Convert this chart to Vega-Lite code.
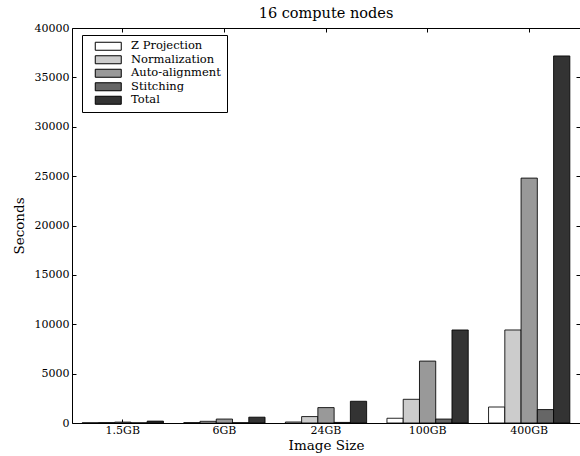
{
  "$schema": "https://vega.github.io/schema/vega-lite/v6.json",
  "width": 508,
  "height": 395,
  "autosize": {"type": "none"},
  "padding": {"left": 72, "top": 28, "right": 0, "bottom": 33},
  "title": {"text": "16 compute nodes", "fontSize": 14.5, "fontWeight": "normal", "font": "DejaVu Serif", "color": "black", "offset": 1},
  "config": {
    "font": "DejaVu Serif",
    "view": {"stroke": "black", "strokeWidth": 1},
    "legend": {"labelFont": "DejaVu Serif", "labelColor": "black"},
    "axis": {"labelColor": "black", "titleColor": "black", "tickColor": "black", "domain": false, "grid": false, "labelFont": "DejaVu Serif", "titleFont": "DejaVu Serif", "titleFontWeight": "normal"}
  },
  "data": {"values": [
    {"size": "1.5GB", "stage": "Z Projection", "seconds": 20},
    {"size": "1.5GB", "stage": "Normalization", "seconds": 40},
    {"size": "1.5GB", "stage": "Auto-alignment", "seconds": 90},
    {"size": "1.5GB", "stage": "Stitching", "seconds": 15},
    {"size": "1.5GB", "stage": "Total", "seconds": 190},
    {"size": "6GB", "stage": "Z Projection", "seconds": 40},
    {"size": "6GB", "stage": "Normalization", "seconds": 170},
    {"size": "6GB", "stage": "Auto-alignment", "seconds": 400},
    {"size": "6GB", "stage": "Stitching", "seconds": 30},
    {"size": "6GB", "stage": "Total", "seconds": 590},
    {"size": "24GB", "stage": "Z Projection", "seconds": 100},
    {"size": "24GB", "stage": "Normalization", "seconds": 650},
    {"size": "24GB", "stage": "Auto-alignment", "seconds": 1560},
    {"size": "24GB", "stage": "Stitching", "seconds": 60},
    {"size": "24GB", "stage": "Total", "seconds": 2200},
    {"size": "100GB", "stage": "Z Projection", "seconds": 480},
    {"size": "100GB", "stage": "Normalization", "seconds": 2400},
    {"size": "100GB", "stage": "Auto-alignment", "seconds": 6270},
    {"size": "100GB", "stage": "Stitching", "seconds": 400},
    {"size": "100GB", "stage": "Total", "seconds": 9420},
    {"size": "400GB", "stage": "Z Projection", "seconds": 1620},
    {"size": "400GB", "stage": "Normalization", "seconds": 9420},
    {"size": "400GB", "stage": "Auto-alignment", "seconds": 24800},
    {"size": "400GB", "stage": "Stitching", "seconds": 1360},
    {"size": "400GB", "stage": "Total", "seconds": 37170}
  ]},
  "layer": [
    {
      "mark": {"type": "bar", "stroke": "black", "strokeWidth": 1, "strokeOpacity": 0.85},
      "encoding": {
        "x": {"field": "size", "type": "nominal", "sort": ["1.5GB", "6GB", "24GB", "100GB", "400GB"],
              "scale": {"paddingInner": 0.2, "paddingOuter": 0.1},
              "axis": {"title": "Image Size", "labelAngle": 0, "labelFontSize": 11, "titleFontSize": 13.5, "tickSize": -4, "labelPadding": 5, "titlePadding": 3}},
        "xOffset": {"field": "stage", "type": "nominal", "sort": ["Z Projection", "Normalization", "Auto-alignment", "Stitching", "Total"], "scale": {"paddingInner": 0, "paddingOuter": 0}},
        "y": {"field": "seconds", "type": "quantitative", "scale": {"domain": [0, 40000], "nice": false},
              "axis": {"title": "Seconds", "values": [0, 5000, 10000, 15000, 20000, 25000, 30000, 35000, 40000], "format": "d", "labelFontSize": 11, "titleFontSize": 13.5, "tickSize": -4, "labelPadding": 7, "titlePadding": 8}},
        "color": {"field": "stage", "type": "nominal", "sort": ["Z Projection", "Normalization", "Auto-alignment", "Stitching", "Total"],
                  "scale": {"domain": ["Z Projection", "Normalization", "Auto-alignment", "Stitching", "Total"], "range": ["#ffffff", "#cccccc", "#999999", "#666666", "#333333"]},
                  "legend": {"title": null, "orient": "none", "legendX": 10, "legendY": 7, "direction": "vertical",
                             "symbolType": "M0.5,-1H7V1H0.5Z", "symbolSize": 64, "symbolStrokeColor": "black", "symbolStrokeWidth": 1,
                             "labelFontSize": 11.5, "labelFont": "DejaVu Serif", "labelColor": "black", "labelOffset": 32,
                             "rowPadding": 0.5, "padding": 5.5, "strokeColor": "black", "fillColor": "white", "cornerRadius": 0}}
      }
    },
    {
      "mark": {"type": "bar", "opacity": 0},
      "encoding": {
        "x": {"field": "size", "type": "nominal", "sort": ["1.5GB", "6GB", "24GB", "100GB", "400GB"],
              "axis": {"orient": "top", "title": null, "labels": false, "tickSize": -4}},
        "xOffset": {"field": "stage", "type": "nominal", "sort": ["Z Projection", "Normalization", "Auto-alignment", "Stitching", "Total"]},
        "y": {"field": "seconds", "type": "quantitative",
              "axis": {"orient": "right", "title": null, "labels": false, "values": [0, 5000, 10000, 15000, 20000, 25000, 30000, 35000, 40000], "tickSize": -4}}
      }
    }
  ],
  "resolve": {"axis": {"x": "independent", "y": "independent"}}
}
